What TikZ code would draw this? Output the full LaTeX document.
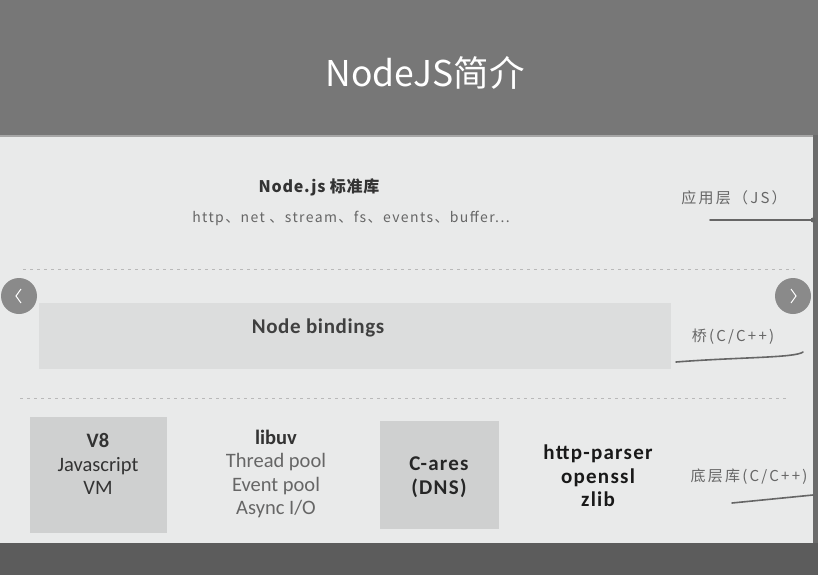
\documentclass[tikz,border=0pt]{standalone}
\usepackage{fontspec}
\setmainfont{Carlito}
\newfontfamily\cjk{Noto Sans CJK SC}
\usetikzlibrary{positioning}

\definecolor{bandgray}{HTML}{777777}
\definecolor{panelgray}{HTML}{E9EAEA}
\definecolor{footgray}{HTML}{5C5C5C}
\definecolor{boxgray}{HTML}{CFD0D0}
\definecolor{bindgray}{HTML}{DCDDDD}
\definecolor{txtgray}{HTML}{666666}
\definecolor{navgray}{HTML}{8A8A8A}

\begin{document}
\begin{tikzpicture}[
      x=1pt, y=-1pt,
      libbox/.style  ={rectangle, fill=boxgray, inner sep=0pt},
      libtext/.style ={align=center, font=\fontsize{20.5}{23.5}\selectfont},
      libbold/.style ={align=center, text=black!85,
                       font=\bfseries\fontsize{21}{23.5}\selectfont\addfontfeature{LetterSpace=6}},
      layername/.style={font=\cjk\fontsize{15}{18}\selectfont\addfontfeature{LetterSpace=15},
                        text=txtgray, inner sep=0pt},
      sep/.style     ={draw=gray!55, line width=1pt, dash pattern=on 3pt off 4pt},
      underline/.style={draw=gray!80!black, line width=1.6pt, line cap=round},
      navbtn/.style  ={circle, fill=navgray, minimum size=36pt, inner sep=0pt}
    ]

    % slide background
    \fill[bandgray] (0,0) rectangle (818,135);
    \fill[panelgray] (0,135) rectangle (813,543);
    \fill[gray!70] (0,135) rectangle (813,137);
    \fill[bandgray!90!black] (813,135) rectangle (818,543);
    \fill[footgray] (0,543) rectangle (818,575);
    \useasboundingbox (0,0) rectangle (818,575);

    \node[text=white, font=\cjk\fontsize{35.5}{40}\selectfont] (title) at (425,73) {NodeJS简介};

    % JS layer
    \node[font=\cjk\bfseries\fontsize{16}{18}\selectfont\addfontfeature{LetterSpace=5}, text=black!80]
          (stdlib) at (319,187) {Node.js 标准库};
    \node[font=\cjk\fontsize{14}{16}\selectfont\addfontfeature{LetterSpace=10}, text=txtgray]
          (modules) at (351,218) {http、net 、stream、fs、events、buffer...};

    \coordinate (sepA) at (23,269);
    \coordinate (sepB) at (795,269);
    \draw[sep] (sepA) -- (sepB);

    % bindings
    \node[rectangle, fill=bindgray, minimum width=632pt, minimum height=66pt] (bindings) at (355,336) {};
    \node[font=\bfseries\fontsize{21}{24}\selectfont\addfontfeature{LetterSpace=3}, text=black!75]
          (bindtxt) at (318,328) {Node bindings};

    \coordinate (sepC) at (20,398);
    \coordinate (sepD) at (788,398);
    \draw[sep] (sepC) -- (sepD);

    % lower libraries
    \node[libbox, minimum width=137pt, minimum height=116pt] (v8) at (98.5,475) {};
    \node[libtext, text=black!80] (v8txt) at (98,464)
          {\textbf{V8}\\Javascript\\VM};

    \node[libtext, text=txtgray] (libuv) at (276,474)
          {\textcolor{black!80}{\textbf{libuv}}\\Thread pool\\Event pool\\Async I/O};

    \node[libbox, minimum width=119pt, minimum height=108pt] (cares) at (439.5,475) {};
    \node[libbold] (carestxt) at (439,477) {C-ares\\(DNS)};

    \node[libbold, text=black!90] (others) at (598,476) {http-parser\\openssl\\zlib};

    % layer names on the right
    \node[layername] (jsname) at (734,198) {应用层（JS）};
    \node[layername] (bridgename) at (733,337) {桥(C/C++)};
    \node[layername] (basename) at (749,477) {底层库(C/C++)};

    \coordinate (jsA) at (710,220);
    \coordinate (jsB) at (813,220);
    \draw[underline] (jsA) -- (jsB);
    \fill[gray!80!black] (jsB) circle (2.5pt);

    \coordinate (brA) at (676,362);
    \coordinate (brB) at (803,352);
    \draw[underline] (brA) .. controls (740,357) and (795,358) .. (brB);

    \coordinate (baA) at (732,503);
    \coordinate (baB) at (813,495);
    \draw[underline] (baA) -- (baB);

    % slide navigation
    \node[navbtn] (prev) at (19,296) {};
    \node[navbtn] (next) at (793,296) {};
    \draw[white, line width=1pt] ([shift={(2,-7)}]prev.center) -- ([shift={(-3,0)}]prev.center) -- ([shift={(2,7)}]prev.center);
    \draw[white, line width=1pt] ([shift={(-2,-7)}]next.center) -- ([shift={(3,0)}]next.center) -- ([shift={(-2,7)}]next.center);
\end{tikzpicture}
\end{document}
